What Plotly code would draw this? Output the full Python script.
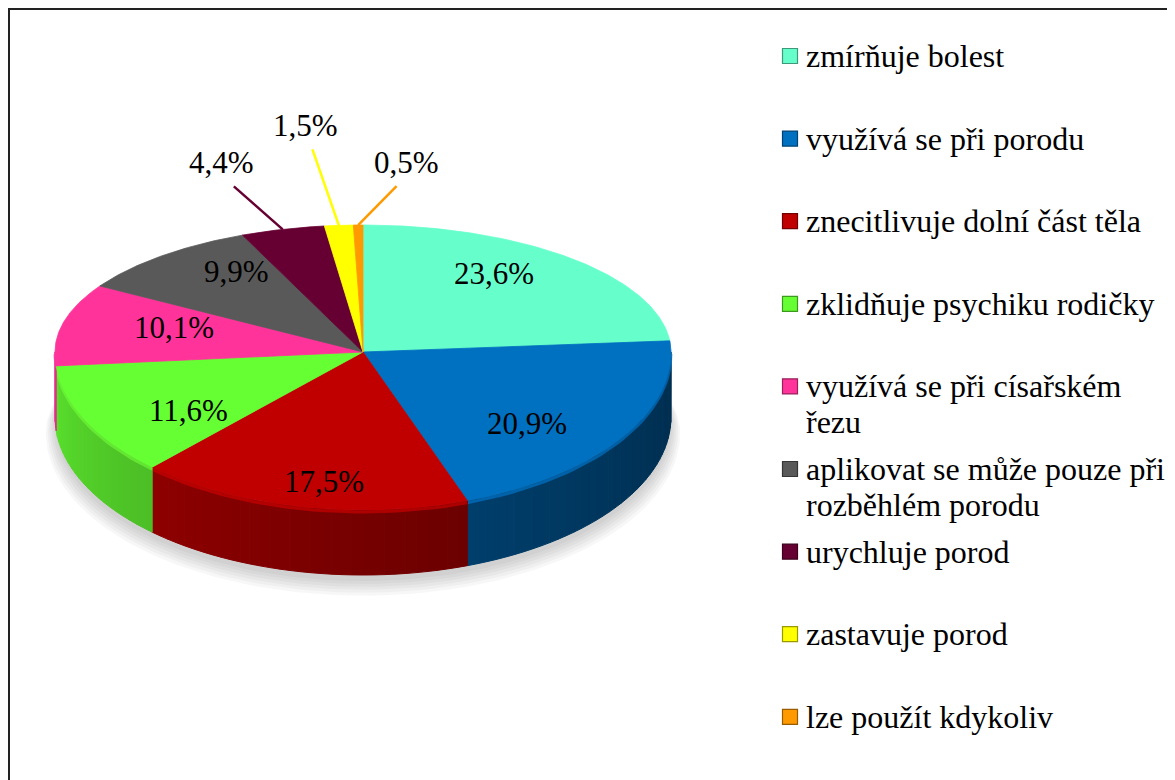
import textwrap
import numpy as np
import plotly.graph_objects as go

# ---------------- data ----------------
categories = [
    "zmírňuje bolest",
    "využívá se při porodu",
    "znecitlivuje dolní část těla",
    "zklidňuje psychiku rodičky",
    "využívá se při císařském řezu",
    "aplikovat se může pouze při rozběhlém porodu",
    "urychluje porod",
    "zastavuje porod",
    "lze použít kdykoliv",
]
values = [23.6, 20.9, 17.5, 11.6, 10.1, 9.9, 4.4, 1.5, 0.5]
colors = ["#66FFCC", "#0070C0", "#C00000", "#66FF33", "#FF3399",
          "#595959", "#660033", "#FFFF00", "#FF9900"]

# ---------------- geometry / style ----------------
W, H = 1175, 780
PAGE_MARGIN = 8            # default body margin of the html page
CX, CY = 363, 352          # pie centre (screen pixels)
RX = 308                   # horizontal radius
RY_BACK, RY_FRONT = 127, 158   # perspective: back half flatter than front half
DEPTH = 65                 # thickness of the 3-D pie
FONT = "Liberation Serif"
FS = 31                    # data labels
FS_LEG = 32                # legend text
OUTSIDE_LIMIT = 5.0        # slices smaller than this get outside labels
outside_offsets = [(-61, -67), (-33, -100), (48, -63)]   # label offset from slice edge
IN_FX, IN_FY = 0.63, 0.84  # inside label radius factors


def pts(theta_deg, f=1.0, dz=0.0):
    t = np.radians(np.asarray(theta_deg, dtype=float))
    c = np.cos(t)
    ry = np.where(c > 0, RY_BACK, RY_FRONT)
    return CX + RX * f * np.sin(t), CY - ry * f * c + dz


def hex2rgb(h):
    h = h.lstrip("#")
    return tuple(int(h[i:i + 2], 16) for i in (0, 2, 4))


def shade(hexcol, k):
    r, g, b = hex2rgb(hexcol)
    return f"rgb({min(255, int(r * k))},{min(255, int(g * k))},{min(255, int(b * k))})"


total = float(sum(values))
bounds = np.concatenate([[0.0], np.cumsum(values)]) / total * 360.0

fig = go.Figure()

# soft shadow below the pie
for k in range(6):
    th = np.linspace(0, 360, 241)
    x, y = pts(th, f=1.0 + 0.006 * k, dz=DEPTH + 6 + 2 * k)
    fig.add_trace(go.Scatter(x=x, y=y, mode="lines", fill="toself",
                             fillcolor="rgba(0,0,0,0.03)", line=dict(width=0),
                             hoverinfo="skip", showlegend=False))

# side walls (visible front half, 90..270 degrees) with shading
for i, col in enumerate(colors):
    a, b = max(bounds[i], 90.0), min(bounds[i + 1], 270.0)
    if a >= b:
        continue
    nseg = max(1, int(np.ceil((b - a) / 2.0)))
    edges = np.linspace(a, b, nseg + 1)
    for s, e in zip(edges[:-1], edges[1:]):
        mid = (s + e) / 2
        tnorm = (mid - 90.0) / 180.0
        k = 0.42 + 0.48 * tnorm ** 1.3
        th = np.linspace(s, e, 6)
        xt, yt = pts(th)
        xb, yb = pts(th[::-1], dz=DEPTH)
        c = shade(col, k)
        fig.add_trace(go.Scatter(x=np.concatenate([xt, xb, xt[:1]]),
                                 y=np.concatenate([yt, yb, yt[:1]]),
                                 mode="lines", fill="toself", fillcolor=c,
                                 line=dict(width=1, color=c),
                                 hoverinfo="skip", showlegend=False))
    # light rim at the top edge of the wall
    th = np.linspace(a, b, 40)
    xt, yt = pts(th, dz=2)
    fig.add_trace(go.Scatter(x=xt, y=yt, mode="lines",
                             line=dict(width=3, color=shade(col, 1.12)),
                             opacity=0.6, hoverinfo="skip", showlegend=False))

# top faces
for i, col in enumerate(colors):
    th = np.linspace(bounds[i], bounds[i + 1], max(3, int((bounds[i + 1] - bounds[i]) * 2)))
    x, y = pts(th)
    fig.add_trace(go.Scatter(x=np.concatenate([[CX], x, [CX]]),
                             y=np.concatenate([[CY], y, [CY]]),
                             mode="lines", fill="toself", fillcolor=col,
                             line=dict(width=0.8, color=col),
                             hoverinfo="skip", showlegend=False))

# data labels
out_idx = 0
for i, v in enumerate(values):
    txt = f"{v:.1f}".replace(".", ",") + "%"
    mid = (bounds[i] + bounds[i + 1]) / 2
    if v >= OUTSIDE_LIMIT:
        t = np.radians(mid)
        c = np.cos(t)
        ry = RY_BACK if c > 0 else RY_FRONT
        lx = CX + RX * IN_FX * np.sin(t)
        ly = CY - ry * IN_FY * c
        fig.add_annotation(x=lx, y=ly, text=txt, showarrow=False,
                           font=dict(family=FONT, size=FS, color="black"))
    else:
        ex, ey = pts(mid)
        ex, ey = float(ex), float(ey)
        dx, dy = outside_offsets[out_idx]
        out_idx += 1
        lx, ly = ex + dx, ey + dy
        fig.add_trace(go.Scatter(x=[ex, lx + 0.2 * (ex - lx)], y=[ey, ly + 24],
                                 mode="lines", line=dict(color=colors[i], width=2.5),
                                 hoverinfo="skip", showlegend=False))
        fig.add_annotation(x=lx, y=ly, text=txt, showarrow=False,
                           font=dict(family=FONT, size=FS, color="black"))

# legend (manual, fixed slot spacing like the original)
LEG_X_MARK, LEG_X_TEXT, LEG_Y0, LEG_STEP, LINE_H = 790, 804, 56, 82.6, 36
leg_y = [LEG_Y0 + i * LEG_STEP for i in range(len(categories))]
fig.add_trace(go.Scatter(x=[LEG_X_MARK] * len(categories), y=leg_y, mode="markers",
                         marker=dict(symbol="square", size=15, color=colors,
                                     line=dict(width=1.2, color=[shade(c, 0.6) for c in colors])),
                         hoverinfo="skip", showlegend=False))
for i, name in enumerate(categories):
    for j, line in enumerate(textwrap.wrap(name, 28)):
        fig.add_annotation(x=LEG_X_TEXT, y=leg_y[i] + j * LINE_H, text=line,
                           showarrow=False, xanchor="left", yanchor="middle",
                           font=dict(family=FONT, size=FS_LEG, color="black"))

# frame
fig.add_shape(type="rect", x0=9, y0=9, x1=W + 30, y1=H + 30,
              line=dict(color="#222222", width=2), layer="above")

fig.update_layout(
    width=W, height=H, autosize=False,
    margin=dict(l=0, r=0, t=0, b=0),
    paper_bgcolor="white", plot_bgcolor="white",
    showlegend=False,
    font=dict(family=FONT),
    # axis ranges shifted by the page margin so that data units equal screen pixels
    xaxis=dict(range=[PAGE_MARGIN, W + PAGE_MARGIN], visible=False, fixedrange=True),
    yaxis=dict(range=[H + PAGE_MARGIN, PAGE_MARGIN], visible=False, fixedrange=True),
)

fig.write_html("out.html")
